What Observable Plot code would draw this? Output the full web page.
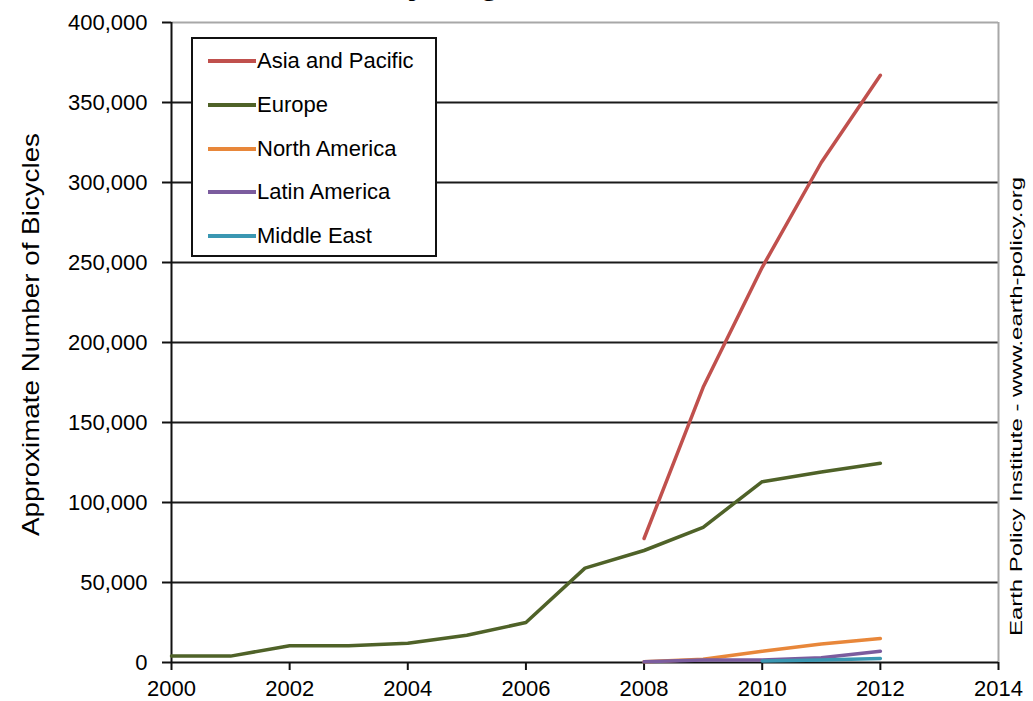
<!DOCTYPE html>
<html>
<head>
<meta charset="utf-8">
<script src="https://cdn.jsdelivr.net/npm/d3@7"></script>
<script src="https://cdn.jsdelivr.net/npm/@observablehq/plot@0.6"></script>
<style>
  html, body { margin: 0; padding: 0; background: #fff; }
  #wrap { position: relative; width: 1033px; height: 701px; overflow: hidden; font-family: "Liberation Sans", Arial, sans-serif; }
  #wrap svg { display: block; }
  #legend { position: absolute; left: 191px; top: 37px; width: 246px; height: 220px; box-sizing: border-box; border: 2px solid #111; background: #fff; }
  .lg-row { position: absolute; left: 0; height: 0; }
  .lg-line { position: absolute; left: 15px; width: 48px; height: 4px; margin-top: -2px; }
  .lg-text { position: absolute; left: 64px; top: -13px; font-size: 22px; white-space: nowrap; color: #000; line-height: 26px; }
</style>
</head>
<body>
<div id="wrap"></div>
<script>
// ---- data ----
const regions = ["Asia and Pacific", "Europe", "North America", "Latin America", "Middle East"];
const regionColors = ["#C0504D", "#4F6228", "#E8873A", "#7B5C9E", "#3A97B2"];

const asiaYears = [2008, 2009, 2010, 2011, 2012];
const asiaValues = [77500, 172000, 247000, 312500, 367000];

const europeYears = [2000, 2001, 2002, 2003, 2004, 2005, 2006, 2007, 2008, 2009, 2010, 2011, 2012];
const europeValues = [4000, 4000, 10500, 10500, 12000, 17000, 25000, 59000, 70000, 84500, 113000, 119000, 124500];

const northAmericaYears = [2008, 2009, 2010, 2011, 2012];
const northAmericaValues = [500, 2000, 7000, 11500, 15000];

const latinAmericaYears = [2008, 2009, 2010, 2011, 2012];
const latinAmericaValues = [500, 1500, 1500, 3000, 7000];

const middleEastYears = [2010, 2011, 2012];
const middleEastValues = [1000, 1500, 2500];

const xTicks = [2000, 2002, 2004, 2006, 2008, 2010, 2012, 2014];
const yTicks = [0, 50000, 100000, 150000, 200000, 250000, 300000, 350000, 400000];

const yTitle = "Approximate Number of Bicycles";
const sourceText = "Earth Policy Institute - www.earth-policy.org";
const titleStart = "Bike-Share Fleet Size ";
const titleEnd = "by Region, 2000-2012";

// ---- build table ----
const series = [
  [regions[0], asiaYears, asiaValues],
  [regions[1], europeYears, europeValues],
  [regions[2], northAmericaYears, northAmericaValues],
  [regions[3], latinAmericaYears, latinAmericaValues],
  [regions[4], middleEastYears, middleEastValues]
];
const data = series.flatMap(([region, ys, vs]) => ys.map((year, i) => ({region, year, value: vs[i]})));

const fmt = d3.format(",");

const chart = Plot.plot({
  width: 1033,
  height: 701,
  marginLeft: 171,
  marginRight: 35,
  marginTop: 22,
  marginBottom: 39,
  style: {fontFamily: "'Liberation Sans', Arial, sans-serif", fontSize: "22px", color: "#000", background: "#fff"},
  x: {domain: [2000, 2014]},
  y: {domain: [0, 400000]},
  color: {domain: regions, range: regionColors},
  marks: [
    Plot.ruleY(yTicks.filter(d => d > 0 && d < 400000), {stroke: "#1a1a1a", strokeWidth: 2}),
    Plot.ruleY([400000], {stroke: "#a8a8a8", strokeWidth: 2}),
    Plot.ruleX([2014], {stroke: "#a8a8a8", strokeWidth: 2}),
    Plot.axisX({ticks: xTicks, tickSize: 8, tickPadding: 10, tickFormat: d => String(d), label: null, stroke: "#111", strokeWidth: 2, fontSize: 22}),
    Plot.axisY({ticks: yTicks, tickSize: 9, tickPadding: 15, tickFormat: fmt, label: null, stroke: "#111", strokeWidth: 2, fontSize: 22}),
    Plot.ruleX([2000], {stroke: "#111", strokeWidth: 2}),
    Plot.ruleY([0], {stroke: "#111", strokeWidth: 2}),
    Plot.line(data, {x: "year", y: "value", z: "region", stroke: "region", strokeWidth: 3.5}),
    Plot.text([yTitle], {frameAnchor: "left", textAnchor: "middle", rotate: -90, dx: -140, dy: -8, fontSize: 24, fill: "#000"}),
    Plot.text([sourceText], {frameAnchor: "right", textAnchor: "middle", rotate: -90, dx: 18, dy: 64, fontSize: 17, fill: "#000"}),
    Plot.text([titleStart], {frameAnchor: "top-left", dx: 215, dy: -29, lineAnchor: "bottom", textAnchor: "end", fontSize: 34, fontWeight: "bold", fill: "#000"}),
    Plot.text([titleEnd], {frameAnchor: "top-left", dx: 215, dy: -29, lineAnchor: "bottom", textAnchor: "start", fontSize: 34, fontWeight: "bold", fill: "#000"})
  ]
});

function stretch(str, len) {
  d3.select(chart).selectAll("text")
    .filter(function () { return this.textContent === str; })
    .attr("text-anchor", "start")
    .attr("x", -len / 2)
    .attr("textLength", len)
    .attr("lengthAdjust", "spacingAndGlyphs");
}
stretch(yTitle, 403);
stretch(sourceText, 459);

const wrap = document.getElementById("wrap");
wrap.appendChild(chart);

// legend
const legend = document.createElement("div");
legend.id = "legend";
const rowTops = [22, 66, 110, 153, 197];
regions.forEach((r, i) => {
  const row = document.createElement("div");
  row.className = "lg-row";
  row.style.top = rowTops[i] + "px";
  const ln = document.createElement("div");
  ln.className = "lg-line";
  ln.style.background = regionColors[i];
  const tx = document.createElement("div");
  tx.className = "lg-text";
  tx.textContent = r;
  row.appendChild(ln);
  row.appendChild(tx);
  legend.appendChild(row);
});
wrap.appendChild(legend);
</script>
</body>
</html>
